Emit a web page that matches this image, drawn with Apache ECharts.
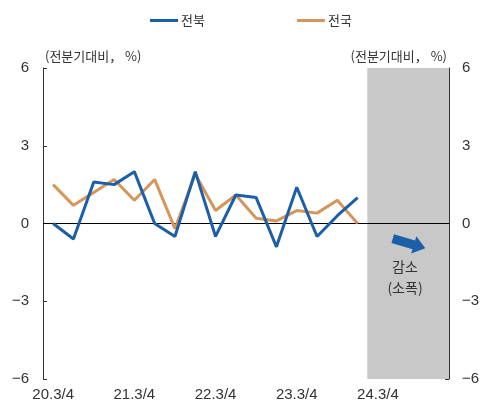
<!DOCTYPE html>
<html>
<head>
<meta charset="utf-8">
<script src="https://cdn.jsdelivr.net/npm/echarts@6/dist/echarts.min.js"></script>
<style>
  html, body { margin: 0; padding: 0; background: #fff; }
  #chart { width: 485px; height: 405px; }
</style>
</head>
<body>
<div id="chart"></div>
<script>
// Quarterly categories (20.3/4 … 25.2/4); the last four form the outlook band
const quarters = [
  '20.3/4', '20.4/4', '21.1/4', '21.2/4', '21.3/4', '21.4/4', '22.1/4', '22.2/4',
  '22.3/4', '22.4/4', '23.1/4', '23.2/4', '23.3/4', '23.4/4', '24.1/4', '24.2/4',
  '24.3/4', '24.4/4', '25.1/4', '25.2/4'
];
// Quarter-on-quarter change, %
const jeonbuk = [0.0, -0.6, 1.6, 1.5, 2.0, 0.0, -0.5, 2.0, -0.5, 1.1, 1.0, -0.9, 1.4, -0.5, 0.3, 1.0];
const national = [1.5, 0.7, 1.2, 1.7, 0.9, 1.7, -0.2, 1.9, 0.5, 1.1, 0.2, 0.1, 0.5, 0.4, 0.9, 0.0];
// Outlook shading (full axis height on the last four quarters)
const shadeUpper = [null, null, null, null, null, null, null, null, null, null, null, null, null, null, null, null, 6, 6, 6, 6];
const shadeLower = [null, null, null, null, null, null, null, null, null, null, null, null, null, null, null, null, -6, -6, -6, -6];
// Value axis
const yMin = -6, yMax = 6, yStep = 3;

const BLUE = '#1c5fa9';
const ORANGE = '#d6955b';
const SHADE = '#c8c8c8';
const NUM_FONT = 'Liberation Sans, Arial, sans-serif';
const KR_FONT = '"Noto Sans CJK KR", sans-serif';

const fmtNum = v => String(v).replace('-', '\u2212');

// [categoryIndex, upper, lower] for every shaded quarter
const shadeData = [];
quarters.forEach((q, i) => {
  if (shadeUpper[i] != null) shadeData.push([i, shadeUpper[i], shadeLower[i]]);
});

// One full-band rectangle per quarter, widened by a pixel so neighbours merge
function renderShade(params, api) {
  const i = api.value(0);
  const top = api.coord([i, api.value(1)]);
  const bottom = api.coord([i, api.value(2)]);
  const band = api.size([1, 0])[0];
  const cs = params.coordSys;
  const rect = echarts.graphic.clipRectByRect(
    { x: top[0] - band / 2 - 0.5, y: top[1], width: band + 1, height: bottom[1] - top[1] },
    { x: cs.x, y: cs.y, width: cs.width, height: cs.height }
  );
  return rect && { type: 'rect', shape: rect, style: { fill: SHADE } };
}

const chart = echarts.init(document.getElementById('chart'), null, { renderer: 'canvas' });

const yAxisBase = {
  type: 'value',
  min: yMin,
  max: yMax,
  interval: yStep,
  splitLine: { show: false },
  axisLine: { show: true, lineStyle: { color: '#333', width: 1 } },
  axisTick: { show: true, inside: true, length: 4, lineStyle: { color: '#333' } },
  axisLabel: { formatter: fmtNum, color: '#333', fontSize: 15, fontFamily: NUM_FONT },
  nameLocation: 'end',
  nameGap: 12,
  nameTextStyle: { color: '#333', fontSize: 13, fontFamily: KR_FONT, verticalAlign: 'middle' }
};

chart.setOption({
  animation: false,
  backgroundColor: '#fff',
  legend: {
    left: 145,
    top: 9,
    itemGap: 92,
    itemWidth: 28,
    itemHeight: 3,
    icon: 'rect',
    data: ['전북', '전국'],
    textStyle: { color: '#333', fontSize: 13, fontFamily: KR_FONT, padding: [0, 0, 0, -2] }
  },
  grid: { left: 43, right: 36, top: 68, bottom: 26, containLabel: false },
  xAxis: {
    type: 'category',
    data: quarters,
    boundaryGap: true,
    axisLine: { show: false },
    axisTick: { show: false },
    axisLabel: { interval: 3, margin: 8, color: '#333', fontSize: 15, fontFamily: NUM_FONT },
    splitLine: { show: false }
  },
  yAxis: [
    Object.assign({}, yAxisBase, {
      position: 'left',
      name: '(전분기대비\uFF0C %)',
      nameTextStyle: Object.assign({}, yAxisBase.nameTextStyle, { align: 'left', padding: [0, 0, 0, 2] }),
      axisLabel: Object.assign({}, yAxisBase.axisLabel, { margin: 14 })
    }),
    Object.assign({}, yAxisBase, {
      position: 'right',
      name: '(전분기대비\uFF0C %)',
      nameTextStyle: Object.assign({}, yAxisBase.nameTextStyle, { align: 'right', padding: [0, 2, 0, 0] }),
      axisLabel: Object.assign({}, yAxisBase.axisLabel, { margin: 13 })
    })
  ],
  series: [
    {
      name: 'outlook',
      type: 'custom',
      renderItem: renderShade,
      data: shadeData,
      encode: { x: 0, y: [1, 2] },
      silent: true,
      z: 1,
      markLine: {
        silent: true,
        symbol: 'none',
        label: { show: false },
        lineStyle: { color: '#000', width: 1, type: 'solid' },
        data: [{ yAxis: 0 }],
        z: 2
      }
    },
    {
      name: '전북',
      type: 'line',
      data: jeonbuk,
      showSymbol: false,
      symbol: 'none',
      lineStyle: { color: BLUE, width: 3 },
      itemStyle: { color: BLUE },
      z: 4
    },
    {
      name: '전국',
      type: 'line',
      data: national,
      showSymbol: false,
      symbol: 'none',
      lineStyle: { color: ORANGE, width: 3 },
      itemStyle: { color: ORANGE },
      z: 3
    }
  ],
  graphic: [
    {
      type: 'polygon',
      x: 409,
      y: 243.5,
      rotation: -0.29,
      shape: {
        points: [[-17, -4.5], [5, -4.5], [5, -9], [17, 0], [5, 9], [5, 4.5], [-17, 4.5]]
      },
      style: { fill: BLUE },
      z: 10
    },
    {
      type: 'text',
      x: 405,
      y: 277,
      style: {
        text: '감소\n(소폭)',
        fill: '#333',
        font: '14px "Noto Sans CJK KR", sans-serif',
        align: 'center',
        verticalAlign: 'middle',
        lineHeight: 21
      },
      z: 10
    }
  ]
});
</script>
</body>
</html>
